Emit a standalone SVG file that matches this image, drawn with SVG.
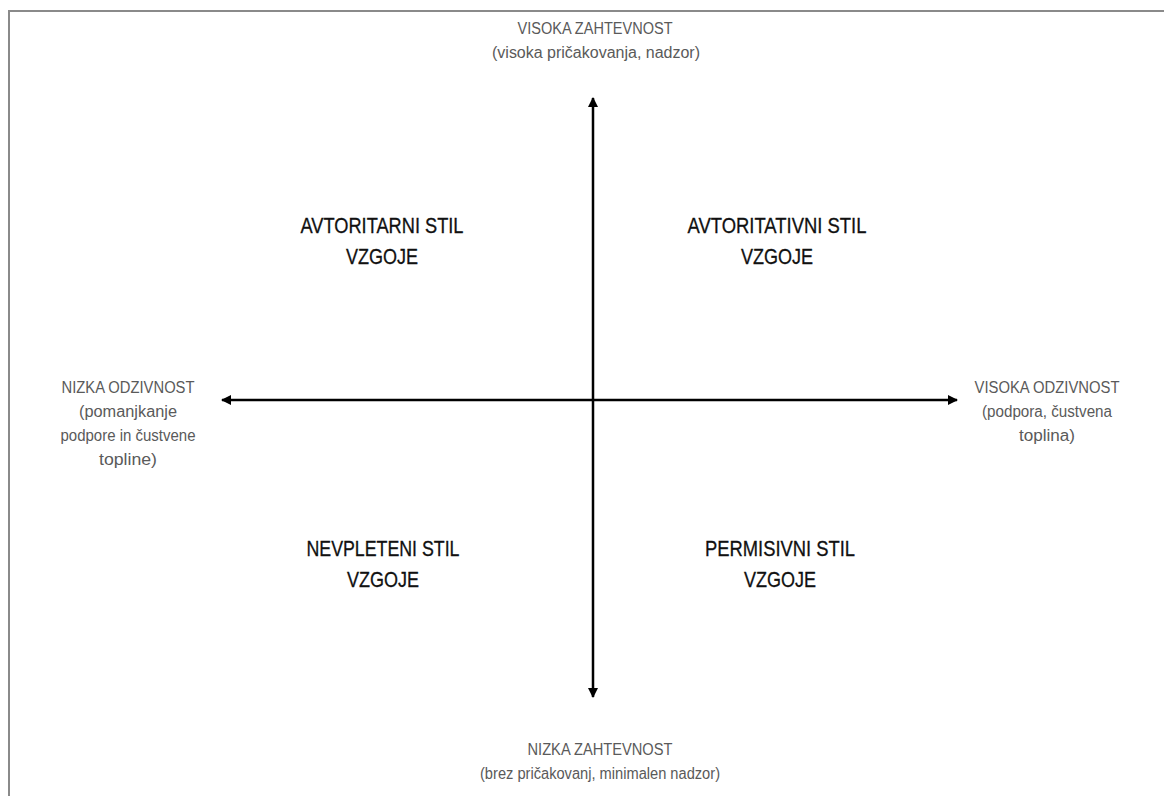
<svg xmlns="http://www.w3.org/2000/svg" width="1164" height="796" viewBox="0 0 1164 796">
<style>
.ax{font-family:"Liberation Sans",Arial,sans-serif;font-size:16px;fill:#5a5a5a;text-anchor:middle}
.q{font-family:"Liberation Sans",Arial,sans-serif;font-size:22px;fill:#111;text-anchor:middle;stroke:#111;stroke-width:0.3}
.line{stroke:#000;stroke-width:2.5;fill:none}
</style>
<defs>
<marker id="ah" viewBox="0 0 10 10" refX="9" refY="5" markerWidth="4" markerHeight="4" orient="auto" markerUnits="strokeWidth">
<path d="M0,0 L10,5 L0,10 z" fill="#000"/>
</marker>
</defs>
<rect width="1164" height="796" fill="#fff"/>
<path d="M9,796 V11 H1164" stroke="#8a8a8a" stroke-width="2" fill="none"/>
<g id="connectors">
<line class="line" x1="593" y1="400" x2="593" y2="98" marker-end="url(#ah)"/>
<line class="line" x1="593" y1="400" x2="593" y2="697" marker-end="url(#ah)"/>
<line class="line" x1="593" y1="400" x2="222" y2="400" marker-end="url(#ah)"/>
<line class="line" x1="593" y1="400" x2="957" y2="400" marker-end="url(#ah)"/>
</g>
<g id="top">
<text class="ax" x="595" y="34" textLength="155" lengthAdjust="spacingAndGlyphs">VISOKA ZAHTEVNOST</text>
<text class="ax" x="596" y="58" textLength="208" lengthAdjust="spacingAndGlyphs">(visoka pričakovanja, nadzor)</text>
</g>
<g id="bottom">
<text class="ax" x="600" y="755" textLength="145" lengthAdjust="spacingAndGlyphs">NIZKA ZAHTEVNOST</text>
<text class="ax" x="600" y="779" textLength="240" lengthAdjust="spacingAndGlyphs">(brez pričakovanj, minimalen nadzor)</text>
</g>
<g id="left">
<text class="ax" x="128" y="393" textLength="133" lengthAdjust="spacingAndGlyphs">NIZKA ODZIVNOST</text>
<text class="ax" x="128" y="417" textLength="98" lengthAdjust="spacingAndGlyphs">(pomanjkanje</text>
<text class="ax" x="128" y="441" textLength="135" lengthAdjust="spacingAndGlyphs">podpore in čustvene</text>
<text class="ax" x="128" y="465" textLength="58" lengthAdjust="spacingAndGlyphs">topline)</text>
</g>
<g id="right">
<text class="ax" x="1047" y="393" textLength="145" lengthAdjust="spacingAndGlyphs">VISOKA ODZIVNOST</text>
<text class="ax" x="1047" y="417" textLength="130" lengthAdjust="spacingAndGlyphs">(podpora, čustvena</text>
<text class="ax" x="1047" y="441" textLength="56" lengthAdjust="spacingAndGlyphs">toplina)</text>
</g>
<g id="q-avtoritarni">
<text class="q" x="382" y="233" textLength="163" lengthAdjust="spacingAndGlyphs">AVTORITARNI STIL</text>
<text class="q" x="382" y="264" textLength="72" lengthAdjust="spacingAndGlyphs">VZGOJE</text>
</g>
<g id="q-avtoritativni">
<text class="q" x="777" y="233" textLength="179" lengthAdjust="spacingAndGlyphs">AVTORITATIVNI STIL</text>
<text class="q" x="777" y="264" textLength="72" lengthAdjust="spacingAndGlyphs">VZGOJE</text>
</g>
<g id="q-nevpleteni">
<text class="q" x="383" y="556" textLength="153" lengthAdjust="spacingAndGlyphs">NEVPLETENI STIL</text>
<text class="q" x="383" y="587" textLength="72" lengthAdjust="spacingAndGlyphs">VZGOJE</text>
</g>
<g id="q-permisivni">
<text class="q" x="780" y="556" textLength="150" lengthAdjust="spacingAndGlyphs">PERMISIVNI STIL</text>
<text class="q" x="780" y="587" textLength="72" lengthAdjust="spacingAndGlyphs">VZGOJE</text>
</g>
</svg>
